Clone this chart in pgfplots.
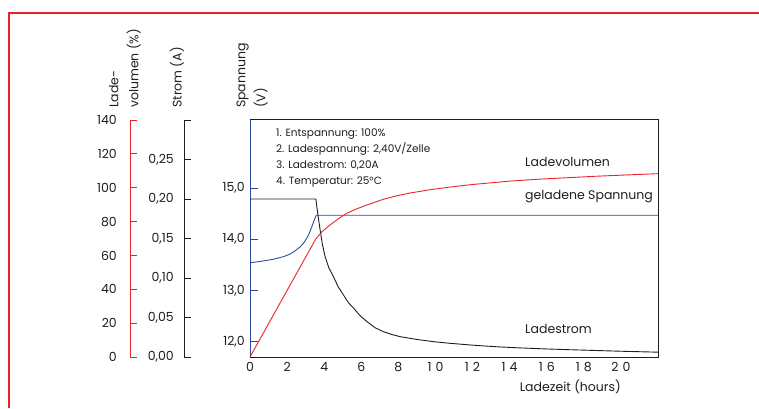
\documentclass[border=0pt]{standalone}
\usepackage{pgfplots}
\pgfplotsset{compat=1.18}
\usepackage{fontspec}
\setmainfont{Poppins}
\definecolor{cred}{HTML}{E8232A}
\definecolor{cblue}{HTML}{2E4C9C}
\definecolor{cgray}{HTML}{1E1E1E}
\pgfplotsset{
  base/.style={scale only axis, height=237pt, anchor=south west,
    /pgf/number format/assume math mode=true,
    tick label style={font=\fontsize{12.5}{12.5}\selectfont, text=cgray},
    tick align=inside},
  over/.style={base, width=408pt, at={(250pt,51pt)}, xmin=0, xmax=22, hide axis, clip=false},
}
\begin{document}
\begin{tikzpicture}[x=1pt,y=1pt]
\useasboundingbox (0,0) rectangle (759,408);
\draw[cred, line width=1.4pt] (9,0) -- (9,395) -- (759,395);

% Ladevolumen scale
\begin{axis}[base, width=1pt, at={(130pt,51pt)}, xmin=0, xmax=1,
  axis x line=none, axis y line*=left,
  ymin=0, ymax=140, ytick={0,20,...,140},
  y axis line style={cred, line width=1pt},
  ytick style={cred, line width=1pt}, major tick length=7pt,
  yticklabel style={anchor=east, inner sep=0pt, xshift=-13pt}]
\end{axis}

% Strom scale
\begin{axis}[base, width=1pt, at={(184pt,51pt)}, xmin=0, xmax=1,
  axis x line=none, axis y line*=left,
  ymin=0, ymax=0.30, ytick={0,0.05,0.10,0.15,0.20,0.25,0.30},
  yticklabels={{0,00},{0,05},{0,10},{0,15},{0,20},{0,25},{}},
  y axis line style={cgray, line width=1pt},
  ytick style={cgray, line width=1pt}, major tick length=7pt,
  yticklabel style={anchor=east, inner sep=0pt, xshift=-10pt}]
\end{axis}

% Main axis: Spannung
\begin{axis}[base, width=408pt, at={(250pt,51pt)},
  xmin=0, xmax=22, ymin=11.7, ymax=16.33,
  axis line style={cgray, line width=1pt},
  xtick={0,2,...,20},
  xticklabels={0,2,4,6,8,1\hspace{4pt}0,1\hspace{4pt}2,1\hspace{4pt}4,1\hspace{4pt}6,1\hspace{4pt}8,2\hspace{4pt}0},
  minor xtick={2,4,...,20},
  xtick pos=left, ytick pos=left,
  major tick length=8pt, minor tick length=5pt,
  xtick style={draw=none},
  minor tick style={cgray, line width=0.8pt},
  ytick={12,13,14,15}, yticklabels={{12,0},{13,0},{14,0},{15,0}},
  ytick style={cblue, line width=1pt},
  yticklabel style={anchor=east, inner sep=0pt, xshift=-5pt},
  xticklabel style={anchor=north, inner sep=0pt, yshift=-5pt}]
\addplot[cblue, line width=0.9pt] coordinates {
 (0,13.54) (0.6,13.57) (1.26,13.61) (1.8,13.66) (2.16,13.71) (2.45,13.78) (2.7,13.85) (2.9,13.93)
 (3.06,14.02) (3.2,14.12) (3.33,14.24) (3.45,14.36) (3.57,14.47) (22,14.47)};
\draw[cblue, line width=1.1pt] (rel axis cs:0,0) -- (rel axis cs:0,1);
\end{axis}

% Strom curve
\begin{axis}[over, ymin=0, ymax=0.30]
\addplot[cgray, line width=0.9pt] coordinates {
 (0,0.20) (3.55,0.20) (3.65,0.182) (3.78,0.161) (3.9,0.143) (4.05,0.127) (4.25,0.113) (4.5,0.1017)
 (4.75,0.089) (5.04,0.0785) (5.3,0.069) (5.59,0.0617) (5.95,0.052) (6.31,0.0447) (6.75,0.037)
 (7.2,0.032) (7.65,0.0285) (8.1,0.0257) (9.0,0.0222) (9.9,0.0194) (10.8,0.0173) (12,0.0150)
 (13,0.0134) (14,0.0121) (15,0.0111) (16,0.0102) (17,0.0094) (18,0.0087) (19,0.0080) (20,0.0073) (21,0.0067) (22,0.0061)};
\end{axis}

% Ladevolumen curve
\begin{axis}[over, ymin=0, ymax=140]
\addplot[cred, line width=0.9pt] coordinates {
 (0,0) (3.55,69.8) (3.9,74.2) (4.32,78.0) (4.75,81.6) (5.22,84.9) (5.75,87.5) (6.3,89.8)
 (7.2,93.2) (7.9,95.2) (8.65,96.9) (9.7,98.8) (10.8,100.4) (12,101.9) (13.9,103.8)
 (15.5,105.0) (17.1,105.9) (18.5,106.7) (20,107.4) (22,108.3)};
\end{axis}

% annotations
\node[anchor=west, align=left, inner sep=0pt, font=\fontsize{10.5}{15.8}\selectfont, text=cgray] at (276,250) {1. Entspannung: 100\%\\2. Ladespannung: 2,40V/Zelle\\3. Ladestrom: 0,20A\\4. Temperatur: 25°C};
\node[anchor=west, inner sep=0pt, font=\fontsize{12.5}{14}\selectfont, text=cgray] at (525,246.3) {Ladevolumen};
\node[anchor=west, inner sep=0pt, font=\fontsize{12.5}{14}\selectfont, text=cgray] at (525,211.3) {geladene Spannung};
\node[anchor=west, inner sep=0pt, font=\fontsize{12.5}{14}\selectfont, text=cgray] at (525,79) {Ladestrom};
\node[anchor=east, inner sep=0pt, font=\fontsize{12.5}{14}\selectfont, text=cgray] at (621,21.5) {Ladezeit (hours)};

\node[rotate=90, anchor=west, align=left, inner sep=0pt, font=\fontsize{12.5}{20}\selectfont, text=cgray] at (125,300) {Lade-\\volumen (\%)};
\node[rotate=90, anchor=west, inner sep=0pt, font=\fontsize{12.5}{14}\selectfont, text=cgray] at (177,300) {Strom (A)};
\node[rotate=90, anchor=west, align=left, inner sep=0pt, font=\fontsize{12.5}{20}\selectfont, text=cgray] at (252,300) {Spannung\\(V)};
\end{tikzpicture}
\end{document}
